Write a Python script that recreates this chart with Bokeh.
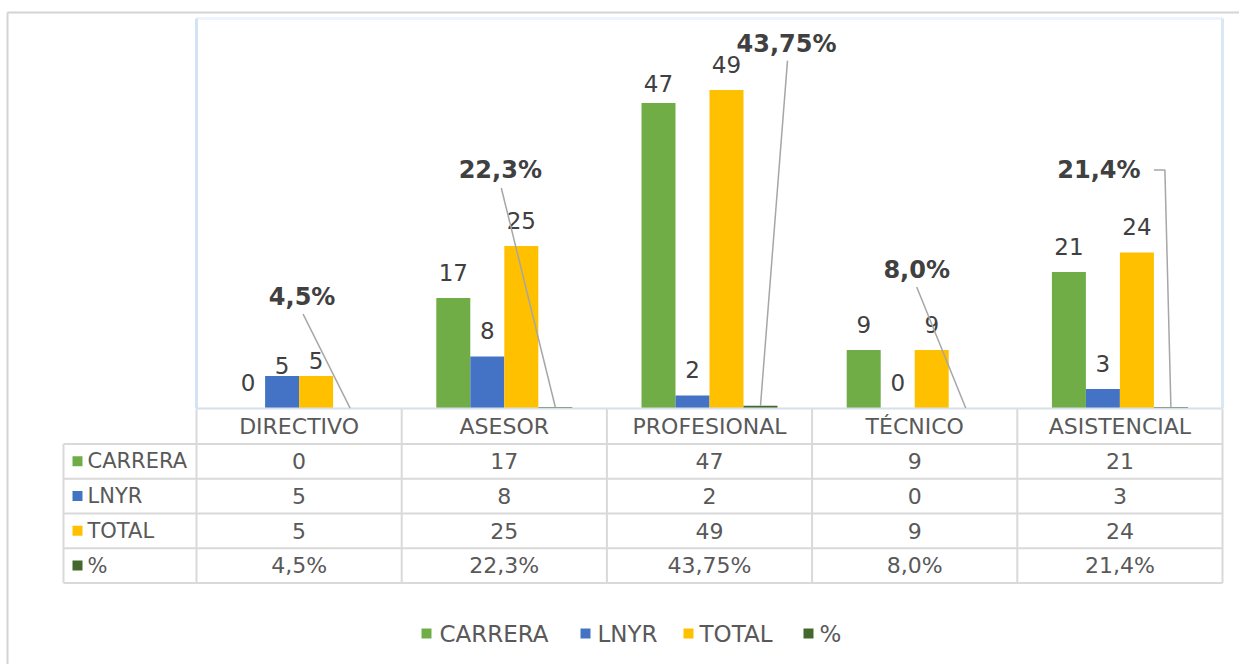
from bokeh.plotting import figure
from bokeh.models import Range1d
from bokeh.core.properties import value
from bokeh.embed import file_html
from bokeh.resources import INLINE

# ---------------- data ----------------
categories = ["DIRECTIVO", "ASESOR", "PROFESIONAL", "TÉCNICO", "ASISTENCIAL"]
series_names = ["CARRERA", "LNYR", "TOTAL", "%"]
carrera = [0, 17, 47, 9, 21]
lnyr = [5, 8, 2, 0, 3]
total = [5, 25, 49, 9, 24]
pct = [0.045, 0.223, 0.4375, 0.080, 0.214]
pct_text = ["4,5%", "22,3%", "43,75%", "8,0%", "21,4%"]
y_max = 60

# ---------------- style / layout ----------------
colors = ["#70AD47", "#4472C4", "#FFC000", "#43682B"]
FONT = value("DejaVu Sans")
TXT = "#595959"
LBL = "#404040"

W, H = 1239, 664
PX0, PX1, PY0, PY1 = 196, 1222, 18, 408      # plot area in screen px
n = len(categories)
ux = (PX1 - PX0) / n                          # px per category unit
uy = (PY1 - PY0) / y_max                      # px per value unit
ROW_C, ROW_H = 426, 34.75                     # table header centre and row height (px)
BAR_PX = 34
bw = BAR_PX / ux

def fx(px):
    return (px - PX0) / ux

# label gaps (px between bar top and text baseline); a few nudged like the original
label_gap = {(1, 0): 11, (2, 0): 16, (0, 2): 20}
DEFAULT_GAP = 26
# % label centres relative to their bar top (dx right, up), px
pct_pos = [(-48, 111), (-55, 237), (26, 362), (-49, 138), (-72, 237)]
# leader line points relative to label centre (dx right, down), px
leader_pts = [[(1, 17)], [(1, 18)], [(1, 17)], [(0, 17)], [(55, 0), (66, 0)]]

p = figure(width=W, height=H, output_backend="svg", toolbar_location=None,
           x_range=Range1d(-PX0 / ux, (W - PX0) / ux),
           y_range=Range1d(-(H - PY1) / uy, y_max + PY0 / uy),
           x_axis_location=None, y_axis_location=None,
           min_border=0, outline_line_color=None)
p.grid.visible = False
p.background_fill_color = "white"
p.border_fill_color = "white"
p.extra_x_ranges = {"px": Range1d(0, W)}
p.extra_y_ranges = {"px": Range1d(start=H, end=0),
                    "tbl": Range1d(start=(H - ROW_C) / ROW_H, end=-ROW_C / ROW_H)}

# outer chart border
p.segment(x0=[7, 7], y0=[12, 12], x1=[7, W], y1=[H, 12], line_color="#d4d4d4",
          line_width=2, x_range_name="px", y_range_name="px")

# plot area border (top/left/right)
p.segment(x0=[0], y0=[y_max], x1=[n], y1=[y_max], line_color="#eef4fb", line_width=3)
p.segment(x0=[0], y0=[0], x1=[0], y1=[y_max], line_color="#d2e3f3", line_width=3)
p.segment(x0=[n], y0=[0], x1=[n], y1=[y_max], line_color="#dae8f5", line_width=3)

# bars
all_series = [carrera, lnyr, total, pct]
for s, vals in enumerate(all_series):
    xs = [i + 0.5 + (s - 1.5) * bw for i in range(n)]
    p.vbar(x=xs, top=vals, bottom=0, width=bw, fill_color=colors[s], line_color=None)

# plot area bottom edge
p.segment(x0=[0], y0=[0], x1=[n], y1=[0], line_color="#d7dfe8", line_width=2)

# value labels for the first three series
for s in range(3):
    vals = all_series[s]
    xs = [i + 0.5 + (s - 1.5) * bw for i in range(n)]
    ys = [v + label_gap.get((s, i), DEFAULT_GAP) / uy for i, v in enumerate(vals)]
    p.text(x=xs, y=ys, text=[str(v) for v in vals], text_font=FONT,
           text_font_size="23px", text_color=LBL, text_align="center",
           text_baseline="alphabetic")

# % labels with leader lines
bx = [i + 0.5 + 1.5 * bw for i in range(n)]
lx = [bx[i] + pct_pos[i][0] / ux for i in range(n)]
ly = [pct[i] + pct_pos[i][1] / uy for i in range(n)]
lines_x, lines_y = [], []
for i in range(n):
    xs_ = [lx[i] + dx / ux for dx, dy in leader_pts[i]] + [bx[i]]
    ys_ = [ly[i] - dy / uy for dx, dy in leader_pts[i]] + [pct[i]]
    lines_x.append(xs_)
    lines_y.append(ys_)
p.multi_line(xs=lines_x, ys=lines_y, line_color="#a6a6a6", line_width=1.5)
p.text(x=lx, y=ly, text=pct_text, text_font=FONT, text_font_size="24px",
       text_font_style="bold", text_color=LBL, text_align="center",
       text_baseline="middle")

# ---------------- data table ----------------
GRID = "#d9d9d9"
nrows = len(series_names)
left = fx(63)
# horizontal lines
p.segment(x0=[left] * (nrows + 1), x1=[n] * (nrows + 1),
          y0=[r + 0.5 for r in range(nrows + 1)], y1=[r + 0.5 for r in range(nrows + 1)],
          line_color=GRID, line_width=2, y_range_name="tbl")
# vertical lines
p.segment(x0=[left], x1=[left], y0=[0.5], y1=[nrows + 0.5],
          line_color=GRID, line_width=2, y_range_name="tbl")
p.segment(x0=list(range(n + 1)), x1=list(range(n + 1)), y0=[-0.5] * (n + 1),
          y1=[nrows + 0.5] * (n + 1), line_color=GRID, line_width=2, y_range_name="tbl")
# header
p.text(x=[i + 0.5 for i in range(n)], y=[0] * n, text=categories, text_font=FONT,
       text_font_size="22px", text_color=TXT, text_align="center",
       text_baseline="middle", y_range_name="tbl")
# rows
for s in range(nrows):
    vals = pct_text if s == 3 else [str(v) for v in all_series[s]]
    p.text(x=[i + 0.5 for i in range(n)], y=[s + 1] * n, text=vals, text_font=FONT,
           text_font_size="22px", text_color=TXT, text_align="center",
           text_baseline="middle", y_range_name="tbl")
p.scatter(x=[fx(77)] * nrows, y=[s + 1 for s in range(nrows)], marker="square",
          size=10, fill_color=colors, line_color=None, y_range_name="tbl")
p.text(x=[fx(87)] * nrows, y=[s + 1 for s in range(nrows)], text=series_names,
       text_font=FONT, text_font_size="21px", text_color=TXT, text_align="left",
       text_baseline="middle", y_range_name="tbl")

# ---------------- legend ----------------
leg_key_x = [426, 585, 688, 808]
leg_txt_x = [439, 597, 699, 819]
LEG_Y = 633
p.scatter(x=leg_key_x, y=[LEG_Y] * 4, marker="square", size=10, fill_color=colors,
          line_color=None, x_range_name="px", y_range_name="px")
p.text(x=leg_txt_x, y=[LEG_Y] * 4, text=series_names, text_font=FONT,
       text_font_size="23px", text_color=TXT, text_align="left",
       text_baseline="middle", x_range_name="px", y_range_name="px")

open("out.html", "w").write(file_html(p, INLINE))
